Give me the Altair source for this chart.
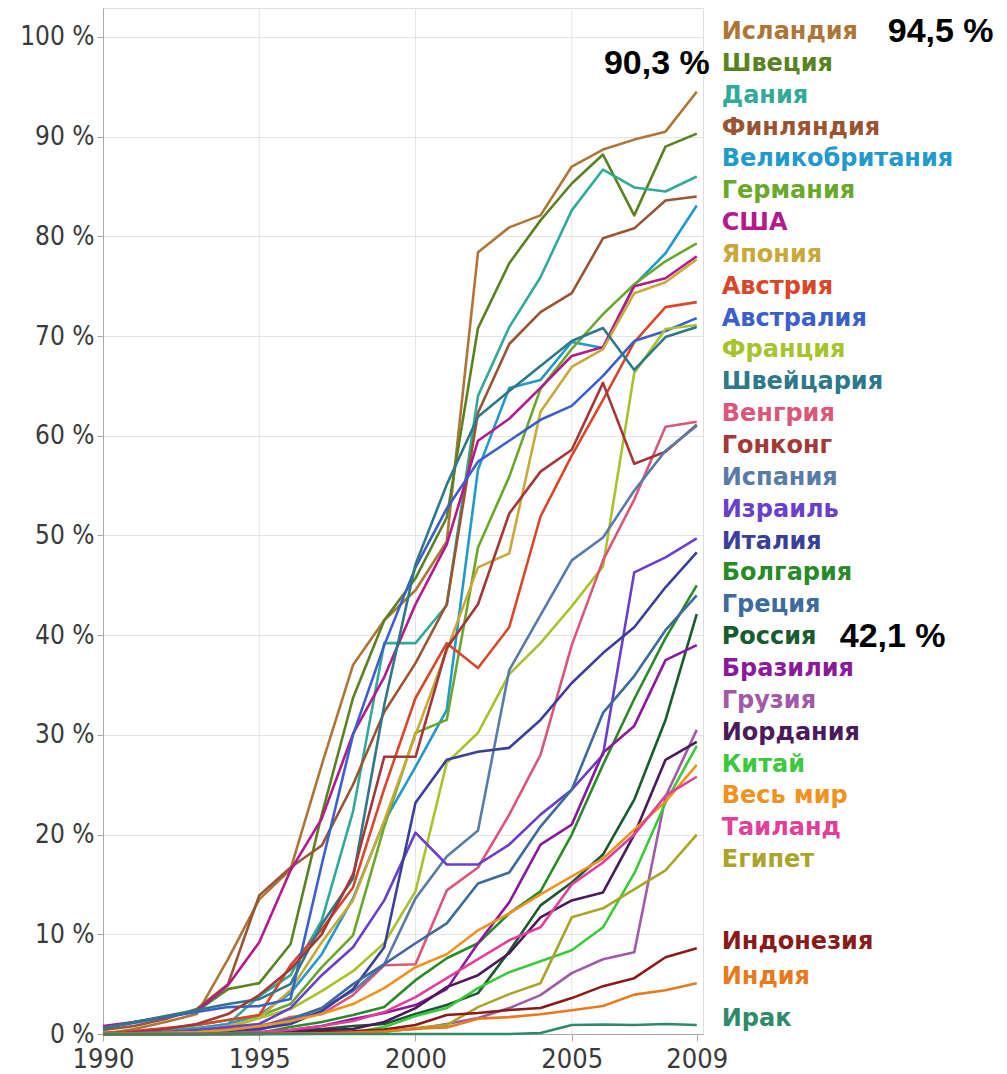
import altair as alt
import pandas as pd

years = list(range(1990, 2010))

names = ["Исландия", "Швеция", "Дания", "Финляндия", "Великобритания", "Германия",
         "США", "Япония", "Австрия", "Австралия", "Франция", "Швейцария", "Венгрия",
         "Гонконг", "Испания", "Израиль", "Италия", "Болгария", "Греция", "Россия",
         "Бразилия", "Грузия", "Иордания", "Китай", "Весь мир", "Таиланд", "Египет",
         "Индонезия", "Индия", "Ирак"]

colors = ["#ad7538", "#5a8222", "#33aa99", "#995533", "#2299cc", "#6aa82c",
          "#b31b8c", "#c9a83a", "#d9472a", "#3d5fcc", "#a6c22c", "#2e7889", "#d9577a",
          "#a33838", "#5a7aa8", "#6a3fcc", "#3a3f9c", "#2a8a2a", "#3e6a9c", "#1a5a30",
          "#8a1a9c", "#a05aa8", "#4a1a5a", "#3cc83c", "#f0921e", "#e0409a", "#aaa52a",
          "#8a1a1a", "#e87a1e", "#2f8a6a"]

iceland     = [0.0, 0.5, 1.2, 2.0, 7.5, 13.5, 16.5, 27.0, 37.0, 41.5, 44.5, 49.4, 78.4, 80.9, 82.1, 87.0, 88.7, 89.7, 90.5, 94.5]
sweden      = [0.6, 1.2, 1.7, 2.3, 4.5, 5.1, 9.0, 22.0, 33.7, 41.5, 45.7, 51.8, 70.8, 77.3, 81.6, 85.3, 88.2, 82.1, 89.0, 90.3]
denmark     = [0.1, 0.2, 0.4, 0.6, 1.0, 3.8, 5.9, 11.4, 22.3, 39.2, 39.2, 43.0, 64.0, 70.9, 75.9, 82.6, 86.7, 84.9, 84.5, 86.0]
finland     = [0.4, 0.8, 1.5, 2.5, 5.0, 13.9, 16.7, 18.9, 25.0, 32.3, 37.2, 43.1, 62.3, 69.2, 72.4, 74.3, 79.8, 80.8, 83.6, 84.0]
uk          = [0.1, 0.2, 0.4, 0.5, 1.0, 1.9, 4.1, 8.0, 13.6, 21.3, 26.8, 32.5, 56.6, 64.8, 65.6, 69.4, 68.8, 75.1, 78.3, 83.1]
germany     = [0.1, 0.3, 0.5, 0.9, 1.4, 1.8, 3.0, 6.7, 9.9, 20.8, 30.2, 31.5, 48.8, 55.9, 64.7, 68.7, 72.2, 75.2, 77.5, 79.3]
usa         = [0.8, 1.2, 1.7, 2.3, 4.9, 9.2, 16.4, 21.6, 30.1, 35.8, 43.1, 49.1, 59.5, 61.7, 64.8, 68.0, 68.9, 75.0, 75.8, 78.0]
japan       = [0.0, 0.1, 0.2, 0.4, 0.8, 1.6, 4.4, 9.2, 13.4, 21.4, 30.0, 38.5, 46.8, 48.2, 62.4, 66.9, 68.7, 74.3, 75.4, 77.7]
austria     = [0.1, 0.3, 0.6, 0.9, 1.4, 1.9, 6.9, 10.5, 14.7, 24.6, 33.7, 39.2, 36.7, 40.8, 51.9, 58.0, 63.6, 69.4, 72.9, 73.4]
australia   = [0.6, 1.1, 1.7, 2.2, 2.7, 2.8, 3.5, 17.0, 30.0, 39.0, 46.8, 52.7, 57.4, 59.5, 61.6, 63.0, 66.0, 69.5, 70.5, 71.8]
france      = [0.05, 0.1, 0.2, 0.3, 0.6, 1.6, 2.5, 4.3, 6.3, 9.1, 14.3, 27.2, 30.2, 36.1, 39.2, 42.9, 46.9, 66.3, 70.7, 71.1]
switzerland = [0.6, 1.2, 1.8, 2.4, 3.0, 3.5, 5.0, 11.0, 15.6, 33.0, 47.1, 55.1, 61.9, 64.5, 67.0, 69.5, 70.8, 66.6, 69.9, 70.9]
hungary     = [0.0, 0.1, 0.2, 0.3, 0.5, 0.7, 1.7, 2.0, 3.9, 6.9, 7.0, 14.4, 16.7, 22.0, 28.0, 39.0, 47.5, 53.6, 60.9, 61.4]
hongkong    = [0.0, 0.2, 0.5, 1.0, 2.0, 3.9, 6.5, 10.0, 16.0, 27.8, 27.8, 38.7, 43.1, 52.2, 56.4, 58.6, 65.3, 57.2, 58.4, 61.1]
spain       = [0.0, 0.05, 0.1, 0.2, 0.4, 0.4, 1.3, 2.6, 4.3, 7.0, 13.6, 17.8, 20.4, 36.5, 42.0, 47.5, 49.8, 54.5, 58.5, 61.0]
israel      = [0.0, 0.1, 0.2, 0.4, 0.7, 1.0, 2.6, 5.9, 8.7, 13.4, 20.2, 17.0, 17.0, 19.0, 22.0, 24.5, 28.0, 46.3, 47.8, 49.7]
italy       = [0.0, 0.05, 0.1, 0.2, 0.3, 0.5, 1.0, 2.3, 4.5, 8.7, 23.2, 27.5, 28.3, 28.7, 31.5, 35.2, 38.2, 40.8, 44.8, 48.3]
bulgaria    = [0.0, 0.0, 0.0, 0.0, 0.05, 0.1, 0.7, 1.2, 1.9, 2.7, 5.4, 7.6, 9.1, 12.1, 14.3, 20.0, 27.0, 33.6, 39.7, 45.0]
greece      = [0.0, 0.05, 0.1, 0.2, 0.4, 0.8, 1.5, 2.6, 5.0, 7.0, 9.1, 11.1, 15.1, 16.2, 20.8, 24.5, 32.2, 35.9, 40.5, 44.0]
russia      = [0.0, 0.0, 0.0, 0.0, 0.1, 0.15, 0.3, 0.5, 0.8, 1.0, 2.0, 2.9, 4.1, 8.3, 12.9, 15.2, 18.0, 23.5, 31.5, 42.1]
brazil      = [0.0, 0.0, 0.0, 0.0, 0.05, 0.1, 0.4, 0.8, 1.5, 2.1, 2.9, 4.5, 9.1, 13.2, 19.0, 21.0, 28.2, 30.9, 37.5, 39.0]
georgia     = [0.0, 0.0, 0.0, 0.0, 0.0, 0.0, 0.05, 0.1, 0.2, 0.3, 0.5, 1.0, 1.6, 2.6, 3.9, 6.1, 7.5, 8.2, 23.8, 30.5]
jordan      = [0.0, 0.0, 0.0, 0.0, 0.0, 0.0, 0.2, 0.4, 0.5, 1.2, 2.6, 4.7, 5.9, 8.1, 11.7, 13.4, 14.2, 20.0, 27.5, 29.3]
china       = [0.0, 0.0, 0.0, 0.0, 0.0, 0.0, 0.01, 0.03, 0.17, 0.7, 1.8, 2.6, 4.6, 6.2, 7.3, 8.4, 10.7, 16.1, 23.2, 28.9]
world       = [0.05, 0.08, 0.12, 0.2, 0.4, 0.8, 1.3, 2.0, 3.0, 4.6, 6.7, 8.0, 10.4, 12.1, 14.0, 15.8, 17.6, 20.5, 23.3, 27.0]
thailand    = [0.0, 0.0, 0.0, 0.0, 0.05, 0.2, 0.4, 0.8, 1.3, 2.2, 3.7, 5.6, 7.5, 9.4, 10.7, 15.0, 17.2, 20.0, 23.9, 25.8]
egypt       = [0.0, 0.0, 0.0, 0.0, 0.0, 0.0, 0.05, 0.08, 0.1, 0.2, 0.6, 0.9, 2.7, 4.0, 5.1, 11.7, 12.6, 14.5, 16.4, 20.0]
indonesia   = [0.0, 0.0, 0.0, 0.0, 0.0, 0.05, 0.1, 0.2, 0.26, 0.45, 0.9, 1.9, 2.1, 2.4, 2.6, 3.6, 4.8, 5.6, 7.7, 8.6]
india       = [0.0, 0.0, 0.0, 0.0, 0.0, 0.03, 0.05, 0.07, 0.14, 0.27, 0.53, 0.66, 1.54, 1.69, 1.98, 2.39, 2.81, 3.95, 4.38, 5.1]
iraq        = [0.0, 0.0, 0.0, 0.0, 0.0, 0.0, 0.0, 0.0, 0.0, 0.0, 0.0, 0.0, 0.0, 0.0, 0.1, 0.9, 0.95, 0.9, 1.0, 0.9]

series = [iceland, sweden, denmark, finland, uk, germany, usa, japan, austria, australia,
          france, switzerland, hungary, hongkong, spain, israel, italy, bulgaria, greece,
          russia, brazil, georgia, jordan, china, world, thailand, egypt, indonesia, india, iraq]

annotations = ["94,5 %", "90,3 %", "42,1 %"]

rows = []
for n, s in zip(names, series):
    for yr, v in zip(years, s):
        rows.append({"country": n, "year": yr, "value": v})
df = pd.DataFrame(rows)

# label positions: stacked list for upper 27, near end values for the last 3
lab_rows = []
for i, (n, s) in enumerate(zip(names, series)):
    ly = 100.5 - 3.195 * i if i < 27 else s[-1] + 0.6
    lab_rows.append({"country": n, "year": 2009, "ly": ly})
lab = pd.DataFrame(lab_rows)

color_scale = alt.Scale(domain=names, range=colors)
tick_font = "DejaVu Sans Condensed, Liberation Sans Narrow, sans-serif"

xscale = alt.Scale(domain=[1990, 2009.2], nice=False, zero=False)
yscale = alt.Scale(domain=[0, 102.9], nice=False, zero=True)

base = alt.Chart(df)

grid = alt.Chart(pd.DataFrame({"year": [1995, 2000, 2005]})).mark_rule(
    color="#e3e3e3", strokeWidth=1
).encode(x=alt.X("year:Q", scale=xscale))

lines = base.mark_line(strokeWidth=2.6, strokeJoin="round").encode(
    x=alt.X("year:Q", scale=xscale,
            axis=alt.Axis(values=[1990, 1995, 2000, 2005, 2009], format="d", title=None,
                          grid=False, domainColor="#aaaaaa", tickColor="#aaaaaa",
                          tickSize=7, labelFont=tick_font, labelFontSize=27,
                          labelColor="#3a3a3a", labelPadding=5, labelFlush=False)),
    y=alt.Y("value:Q", scale=yscale,
            axis=alt.Axis(values=list(range(0, 101, 10)), labelExpr="datum.value + ' %'",
                          title=None, grid=True, gridColor="#e3e3e3",
                          domainColor="#aaaaaa", tickColor="#aaaaaa", tickSize=6,
                          labelFont=tick_font, labelFontSize=26, labelColor="#3a3a3a",
                          labelPadding=3, labelFlush=False)),
    color=alt.Color("country:N", scale=color_scale, legend=None),
    order=alt.Order("year:Q"),
)

labels = alt.Chart(lab).mark_text(
    align="left", baseline="middle", dx=25, font="DejaVu Sans", fontWeight="bold",
    fontSize=24
).encode(
    x=alt.X("year:Q", scale=xscale),
    y=alt.Y("ly:Q", scale=yscale),
    text="country:N",
    color=alt.Color("country:N", scale=color_scale, legend=None),
)

ann_font = "Liberation Sans, Arial, sans-serif"
ann_df = pd.DataFrame({"year": [2009, 2009, 2009],
                       "ly": [lab_rows[0]["ly"], lab_rows[1]["ly"], lab_rows[19]["ly"]],
                       "t": annotations})

ann1 = alt.Chart(ann_df.iloc[[0]]).mark_text(
    align="left", baseline="middle", dx=191, font=ann_font, fontWeight="bold",
    fontSize=34, color="#000000"
).encode(x=alt.X("year:Q", scale=xscale), y=alt.Y("ly:Q", scale=yscale), text="t:N")

ann2 = alt.Chart(ann_df.iloc[[1]]).mark_text(
    align="right", baseline="middle", dx=13, font=ann_font, fontWeight="bold",
    fontSize=34, color="#000000"
).encode(x=alt.X("year:Q", scale=xscale), y=alt.Y("ly:Q", scale=yscale), text="t:N")

ann3 = alt.Chart(ann_df.iloc[[2]]).mark_text(
    align="left", baseline="middle", dx=143, font=ann_font, fontWeight="bold",
    fontSize=34, color="#000000"
).encode(x=alt.X("year:Q", scale=xscale), y=alt.Y("ly:Q", scale=yscale), text="t:N")

chart = alt.layer(grid, lines, labels, ann1, ann2, ann3).properties(
    width=600, height=1026,
    padding={"left": 95, "top": 0, "right": 296, "bottom": 40},
    autosize="none",
).configure_view(stroke=None).configure(background="white")

chart.save("out.html", embed_options={"renderer": "svg", "actions": False})
